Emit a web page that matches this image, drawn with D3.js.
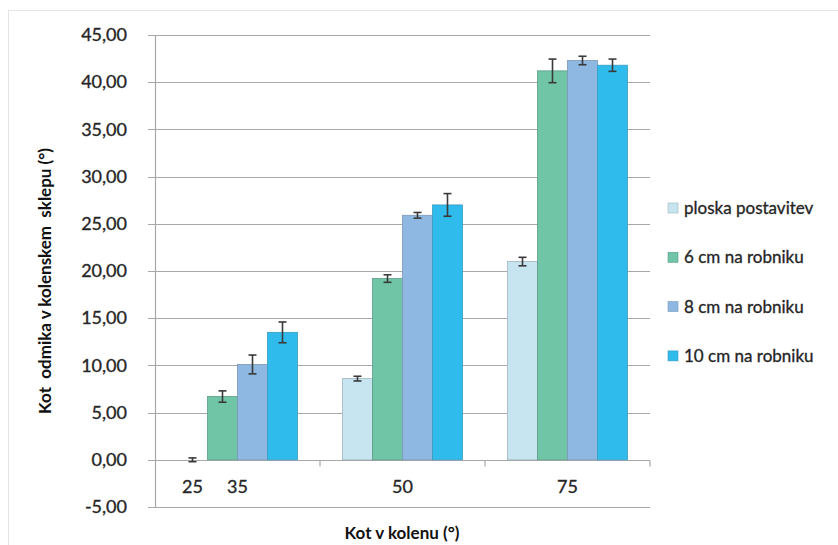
<!DOCTYPE html>
<html>
<head>
<meta charset="utf-8">
<script src="https://cdn.jsdelivr.net/npm/d3@7"></script>
<style>
  html, body { margin: 0; padding: 0; background: #ffffff; }
  svg { display: block; font-family: Lato, "Open Sans", sans-serif; }
  .lbl { stroke: #333; stroke-width: 0.35px; }
</style>
</head>
<body>
<svg id="chart" width="838" height="545"></svg>
<script>
// ---- data ----
const categories = ["35", "50", "75"];
const firstGroupExtraLabel = "25"; // label under the first bar of the first group
const seriesNames = ["ploska postavitev", "6 cm na robniku", "8 cm na robniku", "10 cm na robniku"];
const seriesColors = ["#c6e5f0", "#70c5a7", "#8eb8e2", "#2fbbeb"];
const ploskaValues = [0.0, 8.6, 21.0];
const ploskaErrors = [0.2, 0.25, 0.45];
const cm6Values = [6.7, 19.2, 41.2];
const cm6Errors = [0.6, 0.4, 1.25];
const cm8Values = [10.1, 25.9, 42.3];
const cm8Errors = [1.0, 0.3, 0.45];
const cm10Values = [13.5, 27.0, 41.8];
const cm10Errors = [1.1, 1.2, 0.65];
const yTicks = [-5, 0, 5, 10, 15, 20, 25, 30, 35, 40, 45];
const yTitle = "Kot  odmika v kolenskem  sklepu (°)";
const xTitle = "Kot v kolenu (°)";

const seriesValues = [ploskaValues, cm6Values, cm8Values, cm10Values];
const seriesErrors = [ploskaErrors, cm6Errors, cm8Errors, cm10Errors];

const svg = d3.select("#chart");

// frame
svg.append("rect").attr("x", 8.5).attr("y", 10.5).attr("width", 840).attr("height", 560)
  .attr("fill", "none").attr("stroke", "#e4e4e4").attr("stroke-width", 1);

const plotLeft = 155, plotRight = 650, plotTop = 35, plotBottom = 507;

const y = d3.scaleLinear().domain([-5, 45]).range([plotBottom, plotTop]);
const x = d3.scaleBand().domain(categories).range([plotLeft, plotRight]).paddingInner(0).paddingOuter(0);
const x1 = d3.scaleBand().domain(seriesNames).range([0, x.bandwidth()]).paddingInner(0).paddingOuter(0.75);

// gridlines
svg.append("g").selectAll("line").data(yTicks).join("line")
  .attr("x1", plotLeft - 7).attr("x2", plotRight)
  .attr("y1", d => Math.round(y(d)) + 0.5).attr("y2", d => Math.round(y(d)) + 0.5)
  .attr("stroke", "#a8a8a8").attr("stroke-width", 1.2);

// y axis
const yAxis = d3.axisLeft(y).tickValues(yTicks).tickSize(0).tickPadding(28)
  .tickFormat(d => d3.format(".2f")(d).replace(".", ",").replace("−", "-"));
const yG = svg.append("g").attr("transform", `translate(${plotLeft},0)`).call(yAxis);
yG.select(".domain").remove();
yG.selectAll("text").attr("class", "lbl").attr("font-size", 18).attr("fill", "#222").attr("font-family", "Lato, sans-serif");
svg.append("line").attr("x1", plotLeft + 0.5).attr("x2", plotLeft + 0.5)
  .attr("y1", plotTop).attr("y2", plotBottom).attr("stroke", "#a8a8a8").attr("stroke-width", 1.2);

// x axis at zero
const y0 = Math.round(y(0)) + 0.5;
svg.append("line").attr("x1", plotLeft).attr("x2", plotRight).attr("y1", y0).attr("y2", y0)
  .attr("stroke", "#a8a8a8").attr("stroke-width", 1.2);
svg.append("g").selectAll("line").data(categories).join("line")
  .attr("x1", d => x(d) + x.bandwidth()).attr("x2", d => x(d) + x.bandwidth())
  .attr("y1", y0).attr("y2", y0 + 6).attr("stroke", "#a8a8a8").attr("stroke-width", 1.2);

// bars
const groups = svg.append("g").selectAll("g").data(categories).join("g")
  .attr("transform", d => `translate(${x(d)},0)`);
const strokeColors = ["#9db4bc", "#5c9c86", "#7a98b8", "#3a9cc0"];
groups.each(function(cat, ci) {
  const g = d3.select(this);
  seriesNames.forEach((s, si) => {
    const v = seriesValues[si][ci];
    if (v > 0) {
      g.append("rect")
        .attr("x", x1(s)).attr("width", x1.bandwidth())
        .attr("y", y(v)).attr("height", y(0) - y(v))
        .attr("fill", seriesColors[si]).attr("stroke", strokeColors[si]).attr("stroke-width", 0.8);
    }
  });
});
// error bars
groups.each(function(cat, ci) {
  const g = d3.select(this);
  seriesNames.forEach((s, si) => {
    const v = seriesValues[si][ci], e = seriesErrors[si][ci];
    const cx = x1(s) + x1.bandwidth() / 2;
    g.append("line").attr("x1", cx).attr("x2", cx).attr("y1", y(v + e)).attr("y2", y(v - e))
      .attr("stroke", "#3a3a3a").attr("stroke-width", 1.6);
    [v + e, v - e].forEach(t => {
      g.append("line").attr("x1", cx - 4).attr("x2", cx + 4).attr("y1", y(t)).attr("y2", y(t))
        .attr("stroke", "#3a3a3a").attr("stroke-width", 1.6);
    });
  });
});

// category labels
svg.append("g").selectAll("text").data(categories).join("text")
  .attr("class", "lbl")
  .attr("x", d => x(d) + x.bandwidth() / 2).attr("y", 493)
  .attr("text-anchor", "middle").attr("font-size", 18).attr("fill", "#222")
  .text(d => d);
svg.append("text").attr("class", "lbl")
  .attr("x", x(categories[0]) + x1(seriesNames[0]) + x1.bandwidth() / 2).attr("y", 493)
  .attr("text-anchor", "middle").attr("font-size", 18).attr("fill", "#222")
  .text(firstGroupExtraLabel);

// axis titles
svg.append("text").attr("x", 402).attr("y", 539).attr("text-anchor", "middle")
  .attr("font-size", 17).attr("font-weight", "bold").attr("fill", "#111").text(xTitle);
svg.append("text").attr("transform", "translate(51,281) rotate(-90)").attr("text-anchor", "middle")
  .style("white-space", "pre")
  .attr("font-size", 17).attr("font-weight", "bold").attr("fill", "#111").text(yTitle);

// legend
const legend = svg.append("g").selectAll("g").data(seriesNames).join("g")
  .attr("transform", (d, i) => `translate(668,${208 + i * 49.3})`);
legend.append("rect").attr("x", 0).attr("y", -5).attr("width", 10).attr("height", 10)
  .attr("fill", (d, i) => seriesColors[i]).attr("stroke", (d, i) => strokeColors[i]).attr("stroke-width", 0.6);
legend.append("text").attr("class", "lbl").attr("x", 16).attr("y", 6).attr("font-size", 17).attr("fill", "#222").text(d => d);
</script>
</body>
</html>
